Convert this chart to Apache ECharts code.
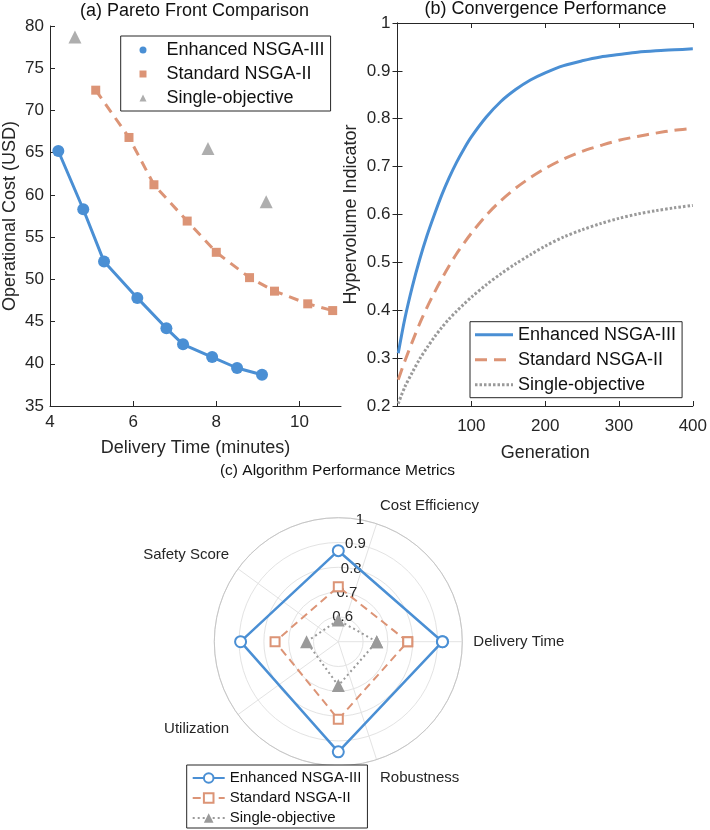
<!DOCTYPE html>
<html>
<head>
<meta charset="utf-8">
<script src="https://cdn.jsdelivr.net/npm/echarts@6/dist/echarts.min.js"></script>
<style>
  html, body { margin: 0; padding: 0; background: #fff; }
  #main { width: 710px; height: 830px; }
</style>
</head>
<body>
<div id="main"></div>
<script>
// (a) Pareto front points
var enhTime = [4.2, 4.8, 5.3, 6.1, 6.8, 7.2, 7.9, 8.5, 9.1];
var enhCost = [65.2, 58.3, 52.1, 47.8, 44.2, 42.3, 40.8, 39.5, 38.7];
var stdTime = [5.1, 5.9, 6.5, 7.3, 8.0, 8.8, 9.4, 10.2, 10.8];
var stdCost = [72.4, 66.8, 61.2, 56.9, 53.2, 50.2, 48.6, 47.1, 46.3];
var singleTime = [4.6, 7.8, 9.2];
var singleCost = [78.7, 65.5, 59.2];

// (b) hypervolume vs generation
var generations = [1, 10, 20, 30, 40, 50, 60, 70, 80, 90, 100, 120, 140, 160, 180, 200, 225, 250, 275, 300, 325, 350, 375, 400];
var hvEnhanced = [0.31, 0.383, 0.449, 0.506, 0.556, 0.600, 0.641, 0.677, 0.709, 0.737, 0.762, 0.803, 0.836, 0.861, 0.881, 0.896, 0.911, 0.921, 0.929, 0.934, 0.939, 0.942, 0.944, 0.946];
var hvStandard = [0.255, 0.294, 0.334, 0.372, 0.406, 0.437, 0.466, 0.493, 0.518, 0.540, 0.561, 0.598, 0.629, 0.655, 0.677, 0.696, 0.716, 0.732, 0.744, 0.755, 0.763, 0.770, 0.776, 0.780];
var hvSingle = [0.205, 0.24, 0.27, 0.298, 0.322, 0.344, 0.364, 0.382, 0.398, 0.413, 0.427, 0.453, 0.476, 0.497, 0.516, 0.534, 0.553, 0.568, 0.581, 0.592, 0.601, 0.608, 0.614, 0.619];

// (c) polar metrics
var metricNames = ['Delivery Time', 'Cost Efficiency', 'Safety Score', 'Utilization', 'Robustness'];
var metricAngles = [0, 72, 144, 216, 288];
var pointAngles = [0, 90, 180, 270, 360];
var radarEnhanced = [0.92, 0.867, 0.894, 0.944, 0.92];
var radarStandard = [0.78, 0.722, 0.755, 0.813, 0.78];
var radarSingle = [0.655, 0.587, 0.628, 0.677, 0.655];
var radiusTicks = [0.6, 0.7, 0.8, 0.9, 1];

var algoNames = ['Enhanced NSGA-III', 'Standard NSGA-II', 'Single-objective'];

var BLUE = '#4a8fd4';
var ORANGE = '#dc9476';
var GRAY = '#9a9a9a';
var AX = '#262626';
var FONT = 'Liberation Sans, Arial, Helvetica, sans-serif';

function zip(a, b) {
    return a.map(function (v, i) { return [v, b[i]]; });
}
function polarPts(vals) {
    return vals.map(function (r, i) { return [r, pointAngles[i]]; });
}
function strip(n) { return n.split('|')[1]; }

var chart = echarts.init(document.getElementById('main'), null, { renderer: 'canvas' });

var axisLine = { show: true, lineStyle: { color: AX, width: 1 } };
var tickIn = { show: true, inside: true, length: 5, lineStyle: { color: AX, width: 1 } };
var tickLabel = { fontSize: 17, color: AX, fontFamily: FONT };
var nameStyle = { fontSize: 18, color: AX, fontFamily: FONT };

var option = {
    animation: false,
    backgroundColor: '#fff',
    textStyle: { fontFamily: FONT },
    title: [
        { text: '(a) Pareto Front Comparison', left: 194.5, top: 1, textAlign: 'center', padding: 0,
          textStyle: { fontSize: 18, fontWeight: 'normal', color: '#111', lineHeight: 20 } },
        { text: '(b) Convergence Performance', left: 545.5, top: -1, textAlign: 'center', padding: 0,
          textStyle: { fontSize: 18, fontWeight: 'normal', color: '#111', lineHeight: 20 } },
        { text: '(c) Algorithm Performance Metrics', left: 337.5, top: 461.7, textAlign: 'center', padding: 0,
          textStyle: { fontSize: 15.5, fontWeight: 'normal', color: '#111', lineHeight: 18 } }
    ],
    grid: [
        { left: 49, top: 26, width: 292, height: 380 },
        { left: 397.5, top: 23, width: 296.5, height: 383 }
    ],
    xAxis: [
        { gridIndex: 0, type: 'value', min: 4, max: 11, interval: 2,
          axisLine: axisLine, axisTick: Object.assign({}, tickIn, { customValues: [4, 6, 8, 10] }),
          axisLabel: Object.assign({ margin: 8, showMaxLabel: false }, tickLabel),
          splitLine: { show: false },
          name: 'Delivery Time (minutes)', nameLocation: 'middle', nameGap: 33, nameTextStyle: nameStyle },
        { gridIndex: 1, type: 'value', min: 0, max: 400, interval: 100,
          axisLine: axisLine, axisTick: tickIn,
          axisLabel: Object.assign({ margin: 12, showMinLabel: false }, tickLabel),
          splitLine: { show: false },
          name: 'Generation', nameLocation: 'middle', nameGap: 38, nameTextStyle: nameStyle },
        { gridIndex: 1, type: 'value', position: 'top', min: 0, max: 400, interval: 100,
          axisLine: axisLine, axisTick: tickIn, axisLabel: { show: false }, splitLine: { show: false } }
    ],
    yAxis: [
        { gridIndex: 0, type: 'value', min: 35, max: 80, interval: 5,
          axisLine: axisLine, axisTick: tickIn,
          axisLabel: Object.assign({ margin: 6 }, tickLabel),
          splitLine: { show: false },
          name: 'Operational Cost (USD)', nameLocation: 'middle', nameGap: 31, nameTextStyle: nameStyle },
        { gridIndex: 1, type: 'value', min: 0.2, max: 1, interval: 0.1,
          axisLine: axisLine, axisTick: tickIn,
          axisLabel: Object.assign({ margin: 7 }, tickLabel),
          splitLine: { show: false },
          name: 'Hypervolume Indicator', nameLocation: 'middle', nameGap: 37, nameTextStyle: nameStyle },
        { gridIndex: 1, type: 'value', position: 'right', min: 0.2, max: 1, interval: 0.1,
          axisLine: axisLine, axisTick: tickIn, axisLabel: { show: false }, splitLine: { show: false } }
    ],
    polar: [
        { center: [338.3, 641.7], radius: 124 },
        { center: [338.3, 641.7], radius: 124 }
    ],
    angleAxis: [
        { polarIndex: 0, type: 'value', min: 0, max: 360, interval: 72, startAngle: 0, clockwise: false,
          axisLine: { show: true, lineStyle: { color: '#c6c6c6', width: 1 } },
          axisTick: { show: false },
          splitLine: { show: true, lineStyle: { color: '#e3e3e3', width: 1 } },
          axisLabel: {
              margin: 11, fontSize: 15, color: AX, fontFamily: FONT,
              formatter: function (v) {
                  var i = metricAngles.indexOf(Math.round(v));
                  return i >= 0 ? metricNames[i] : '';
              }
          } },
        { polarIndex: 1, type: 'value', min: 0, max: 360, startAngle: 80, clockwise: false, show: false }
    ],
    radiusAxis: [
        { polarIndex: 0, type: 'value', min: 0.5, max: 1, interval: 0.1,
          axisLine: { show: false }, axisTick: { show: false }, axisLabel: { show: false },
          splitLine: { show: true, lineStyle: { color: '#e3e3e3', width: 1 } } },
        { polarIndex: 1, type: 'value', min: 0.5, max: 1, interval: 0.1,
          axisLine: { show: false }, axisTick: { show: false }, splitLine: { show: false },
          axisLabel: { show: true, margin: 0, align: 'center', verticalAlign: 'middle',
                       fontSize: 15, color: AX, fontFamily: FONT,
                       customValues: radiusTicks } }
    ],
    legend: [
        { data: [
              { name: 'a|' + algoNames[0], icon: 'circle' },
              { name: 'a|' + algoNames[1], icon: 'rect' },
              { name: 'a|' + algoNames[2], icon: 'triangle' }
          ],
          orient: 'vertical', left: 120.7, top: 36, itemWidth: 7, itemHeight: 7, itemGap: 2,
          padding: [3, 6, 2, 18.8], formatter: strip, selectedMode: false,
          textStyle: { fontSize: 18, lineHeight: 22, color: '#111', fontFamily: FONT, padding: [0, 0, 0, 15] },
          borderColor: AX, borderWidth: 1, borderRadius: 0, backgroundColor: '#fff' },
        { data: algoNames.map(function (n) { return 'b|' + n; }),
          orient: 'vertical', left: 470, top: 321.7, itemWidth: 38, itemHeight: 12, itemGap: 3,
          padding: [2, 6, 2, 3.5], formatter: strip, selectedMode: false,
          itemStyle: { opacity: 0 }, lineStyle: { width: 3 },
          textStyle: { fontSize: 18, lineHeight: 22, color: '#111', fontFamily: FONT },
          borderColor: AX, borderWidth: 1, borderRadius: 0, backgroundColor: '#fff' },
        { data: algoNames.map(function (n) { return 'c|' + n; }),
          orient: 'vertical', left: 186.7, top: 765, itemWidth: 32, itemHeight: 12, itemGap: 2,
          padding: [4, 6, 1, 5], formatter: strip, selectedMode: false,
          lineStyle: { width: 2 },
          textStyle: { fontSize: 15, lineHeight: 18, color: '#111', fontFamily: FONT },
          borderColor: AX, borderWidth: 1, borderRadius: 0, backgroundColor: '#fff' }
    ],
    series: [
        // (a)
        { name: 'a|' + algoNames[0], type: 'line', xAxisIndex: 0, yAxisIndex: 0,
          data: zip(enhTime, enhCost), symbol: 'circle', symbolSize: 12,
          lineStyle: { color: BLUE, width: 3 }, itemStyle: { color: BLUE } },
        { name: 'a|' + algoNames[1], type: 'line', xAxisIndex: 0, yAxisIndex: 0,
          data: zip(stdTime, stdCost), symbol: 'rect', symbolSize: 9,
          lineStyle: { color: ORANGE, width: 3, type: [10, 7] }, itemStyle: { color: ORANGE } },
        { name: 'a|' + algoNames[2], type: 'scatter', xAxisIndex: 0, yAxisIndex: 0,
          data: zip(singleTime, singleCost), symbol: 'triangle', symbolSize: 13,
          itemStyle: { color: GRAY } },
        // (b)
        { name: 'b|' + algoNames[0], type: 'line', xAxisIndex: 1, yAxisIndex: 1,
          data: zip(generations, hvEnhanced), showSymbol: false, symbol: 'none', smooth: 0.3,
          lineStyle: { color: BLUE, width: 3 }, itemStyle: { color: BLUE } },
        { name: 'b|' + algoNames[1], type: 'line', xAxisIndex: 1, yAxisIndex: 1,
          data: zip(generations, hvStandard), showSymbol: false, symbol: 'none', smooth: 0.3,
          lineStyle: { color: ORANGE, width: 3, type: [12, 7] }, itemStyle: { color: ORANGE } },
        { name: 'b|' + algoNames[2], type: 'line', xAxisIndex: 1, yAxisIndex: 1,
          data: zip(generations, hvSingle), showSymbol: false, symbol: 'none', smooth: 0.3,
          lineStyle: { color: GRAY, width: 3, type: [2.5, 2] }, itemStyle: { color: GRAY } },
        // (c)
        { name: 'c|' + algoNames[0], type: 'line', coordinateSystem: 'polar', polarIndex: 0,
          data: polarPts(radarEnhanced), symbol: 'emptyCircle', symbolSize: 11,
          lineStyle: { color: BLUE, width: 2.5 }, itemStyle: { color: BLUE, borderWidth: 2 } },
        { name: 'c|' + algoNames[1], type: 'line', coordinateSystem: 'polar', polarIndex: 0,
          data: polarPts(radarStandard), symbol: 'emptyRect', symbolSize: 9,
          lineStyle: { color: ORANGE, width: 2, type: [8, 5] }, itemStyle: { color: ORANGE, borderWidth: 2 } },
        { name: 'c|' + algoNames[2], type: 'line', coordinateSystem: 'polar', polarIndex: 0,
          data: polarPts(radarSingle), symbol: 'triangle', symbolSize: 13,
          lineStyle: { color: GRAY, width: 2, type: [2, 3] }, itemStyle: { color: GRAY } }
    ]
};

chart.setOption(option);
</script>
</body>
</html>
